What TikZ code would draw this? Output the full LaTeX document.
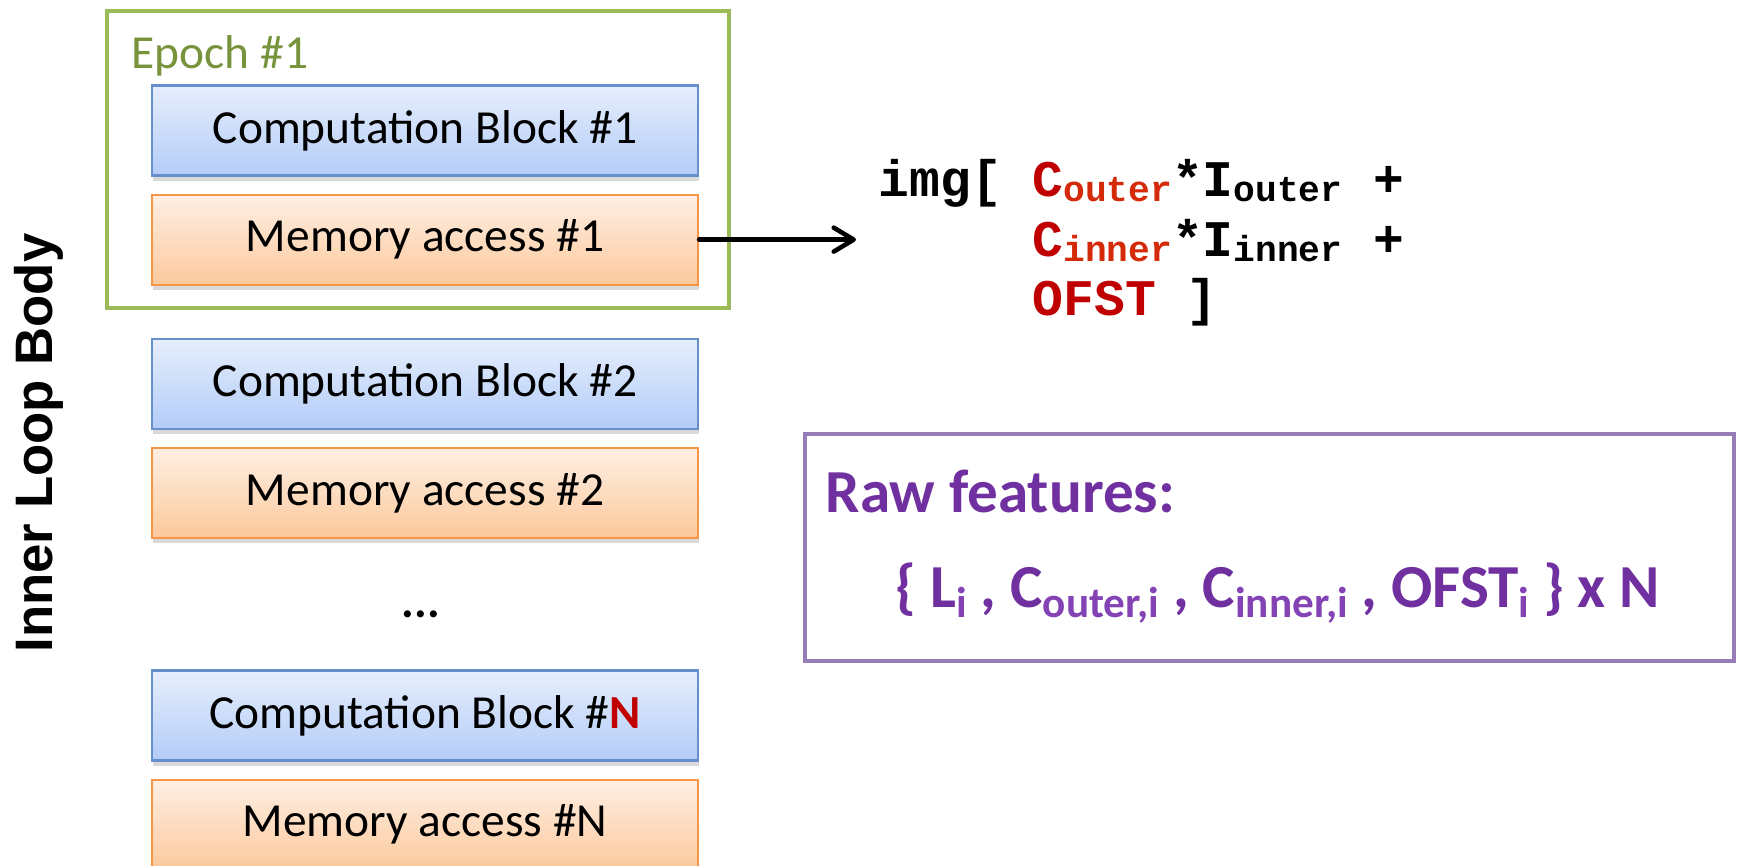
\documentclass[tikz,border=0pt]{standalone}
\usepackage{fontspec}
\setmainfont{Carlito}
\setmonofont{Liberation Mono}
\newfontfamily\labelfont{Liberation Sans}
\usetikzlibrary{arrows.meta,positioning,shadows}
\definecolor{epochgreen}{HTML}{9BBB59}
\definecolor{epochtext}{HTML}{77933C}
\definecolor{compline}{HTML}{6590CC}
\definecolor{comptop}{HTML}{E6EEFC}
\definecolor{compbot}{HTML}{B3CCF8}
\definecolor{memline}{HTML}{F79646}
\definecolor{memtop}{HTML}{FEEFE4}
\definecolor{membot}{HTML}{FCC99C}
\definecolor{featline}{HTML}{977DB8}
\definecolor{feattext}{HTML}{7030A0}
\definecolor{featsub}{HTML}{8443B5}
\definecolor{codered}{HTML}{C00000}
\definecolor{subred}{HTML}{D42A0A}
\newcommand{\csub}[1]{\raisebox{-1.5pt}{\fontsize{10.3}{10}\selectfont #1}}
\newcommand{\fsub}[1]{\raisebox{-3pt}{\fontsize{12.3}{12}\selectfont\color{featsub}#1}}

\begin{document}
\begin{tikzpicture}[
  comp/.style={draw=compline,top color=comptop,bottom color=compbot,line width=0.6pt,minimum width=5.46cm,minimum height=0.9cm,inner sep=0pt,font=\fontsize{13.5}{16}\selectfont,drop shadow={shadow xshift=0.4pt,shadow yshift=-1.6pt,opacity=0.3}},
  mem/.style={comp,draw=memline,top color=memtop,bottom color=membot},
  arr/.style={-{Straight Barb[length=2mm,width=2.4mm,round]},line width=1.3pt,line cap=round},
  code/.style={align=left,inner ysep=0pt,inner xsep=0.22cm,font=\ttfamily\bfseries\fontsize{14.6}{17}\selectfont},
  feat/.style={inner sep=0pt,text=feattext,font=\bfseries\fontsize{17.4}{20}\selectfont}]
  \useasboundingbox (0,0) rectangle (17.37,-8.65);
  % epoch frame
  \node[draw=epochgreen,line width=1.1pt,minimum width=6.22cm,minimum height=2.97cm] (epoch) at (4.18,-1.595) {};
  \node[anchor=west,inner sep=0pt,text=epochtext,font=\fontsize{13.5}{16}\selectfont] (epochlbl) at (1.31,-0.56) {Epoch \#1};
  % loop body
  \node[comp] (c1) at (4.25,-1.305) {Computation Block \#1};
  \node[mem,below=0.17cm of c1] (m1) {Memory access \#1};
  \node[comp,below=0.52cm of m1] (c2) {Computation Block \#2};
  \node[mem,below=0.17cm of c2] (m2) {Memory access \#2};
  \node[anchor=base,font=\bfseries\fontsize{13.5}{16}\selectfont] (dots) at (4.21,-6.17) {...};
  \node[comp] (cn) at (4.25,-7.155) {Computation Block \#{\bfseries\color{codered}N}};
  \node[mem,below=0.17cm of cn] (mn) {Memory access \#N};
  \node[rotate=90,font=\labelfont\bfseries\fontsize{15}{18}\selectfont] (loop) at (0.39,-4.43) {Inner Loop Body};
  % address expression
  \node[code,anchor=west] (addr) at (8.56,-2.43) {img[ {\color{codered}C}{\color{subred}\csub{outer}}*I\csub{outer} +\\
    \phantom{img[~}{\color{codered}C}{\color{subred}\csub{inner}}*I\csub{inner} +\\
    \phantom{img[~}{\color{codered}OFST} ]};
  \draw[arr] (m1.east) -- (m1.east -| addr.west);
  % features
  \node[draw=featline,line width=1.1pt,minimum width=9.29cm,minimum height=2.27cm] (featbox) at (12.695,-5.475) {};
  \node[feat,anchor=base west] (feattitle) at (8.25,-5.12) {Raw features:};
  \node[feat,anchor=base west] (featlist) at (8.95,-6.07) {\{ L\fsub{i} , C\fsub{outer,i} , C\fsub{inner,i} , OFST\fsub{i} \} x N};
\end{tikzpicture}
\end{document}
